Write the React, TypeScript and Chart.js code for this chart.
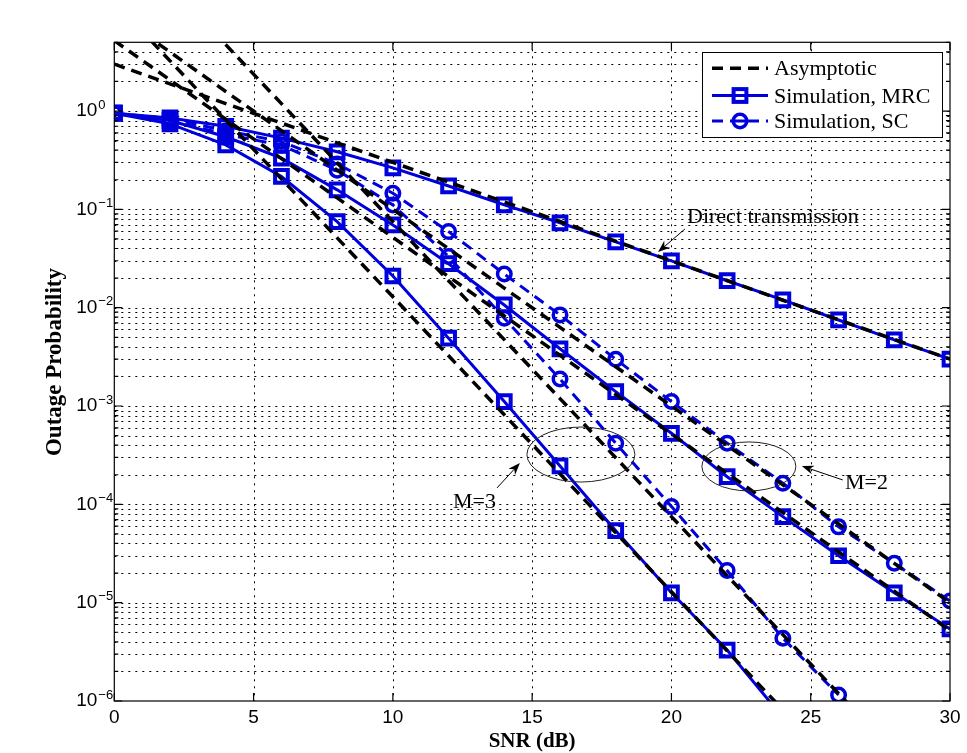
import React, { useEffect, useRef } from 'react';
import { Chart, registerables } from 'chart.js';

Chart.register(...registerables);

// ---------- data ----------
const snr = [0, 2, 4, 6, 8, 10, 12, 14, 16, 18, 20, 22, 24, 26, 28, 30];

const directSim = [0.95, 0.85, 0.70, 0.53, 0.385, 0.264, 0.173, 0.111, 0.073, 0.0467, 0.0299, 0.0188, 0.0120, 0.0075, 0.0047, 0.0030];
const mrc2Sim = [0.95, 0.80, 0.547, 0.332, 0.158, 0.0695, 0.0280, 0.01066, 0.00382, 0.00140, 5.28e-4, 1.91e-4, 7.5e-5, 3.0e-5, 1.26e-5, 5.4e-6];
const sc2Sim = [0.95, 0.84, 0.63, 0.49, 0.29, 0.146, 0.0594, 0.0220, 0.00845, 0.00299, 1.11e-3, 4.19e-4, 1.64e-4, 5.9e-5, 2.52e-5, 1.04e-5];
const mrc3Sim = [0.95, 0.74, 0.453, 0.216, 0.075, 0.0210, 0.0049, 0.00111, 2.46e-4, 5.39e-5, 1.26e-5, 3.3e-6, 6.8e-7];
const sc3Sim = [0.95, 0.80, 0.58, 0.45, 0.25, 0.111, 0.0331, 0.0078, 0.00188, 4.19e-4, 9.5e-5, 2.12e-5, 4.35e-6, 1.15e-6];

const directAsym = [3.0, 1.89, 1.19, 0.754, 0.475, 0.30, 0.189, 0.119, 0.0754, 0.0475, 0.030, 0.0189, 0.0119, 0.00754, 0.00475, 0.0030];
const mrc2Asym = [5.2, 2.07, 0.824, 0.328, 0.131, 0.052, 0.0207, 0.00824, 0.00328, 0.00131, 5.2e-4, 2.07e-4, 8.24e-5, 3.28e-5, 1.31e-5, 5.2e-6];
const sc2Asym = [10, 3.98, 1.58, 0.631, 0.251, 0.10, 0.0398, 0.0158, 0.00631, 0.00251, 1.0e-3, 3.98e-4, 1.58e-4, 6.31e-5, 2.51e-5, 1.0e-5];
const mrc3Asym = [12.9, 3.24, 0.814, 0.204, 0.0513, 0.0129, 3.24e-3, 8.14e-4, 2.04e-4, 5.13e-5, 1.29e-5, 3.24e-6, 8.14e-7];
const sc3Asym = [75, 18.8, 4.73, 1.19, 0.298, 0.075, 0.0188, 4.73e-3, 1.19e-3, 2.98e-4, 7.5e-5, 1.88e-5, 4.73e-6, 1.19e-6, 2.98e-7];

const xTicks = [0, 5, 10, 15, 20, 25, 30];
const yDecades = [-6, -5, -4, -3, -2, -1, 0];
const legendLabels = ['Asymptotic', 'Simulation, MRC', 'Simulation, SC'];
const xTitle = 'SNR (dB)';
const yTitle = 'Outage Probability';

// annotations (data coordinates)
const directNote = { text: 'Direct transmission', x: 20.56, y: 0.0836, ax: 20.48, ay: 0.063, tx: 19.52, ty: 0.0368 };
const m3Note = { text: 'M=3', x: 12.16, y: 1.06e-4, ax: 13.74, ay: 1.47e-4, tx: 14.56, ty: 2.63e-4 };
const m2Note = { text: 'M=2', x: 26.23, y: 1.65e-4, ax: 26.15, ay: 1.77e-4, tx: 24.68, ty: 2.45e-4 };
const ellipse3 = { x: 16.75, y: 3.21e-4, rx: 54, ry: 27.5 };
const ellipse2 = { x: 22.78, y: 2.43e-4, rx: 47, ry: 24.5 };

// ---------- style ----------
const BLUE = '#0000dd';
const SERIF = '"Liberation Serif", "Times New Roman", serif';
const SANS = '"Liberation Sans", Arial, sans-serif';
const DASH = [11, 7];

const toPts = (vals: number[]) => vals.map((v, i) => ({ x: snr[i], y: v }));

function arrow(ctx: CanvasRenderingContext2D, x1: number, y1: number, x2: number, y2: number) {
  const ang = Math.atan2(y2 - y1, x2 - x1);
  const L = 12, W = 4.5;
  ctx.beginPath();
  ctx.moveTo(x1, y1);
  ctx.lineTo(x2 - Math.cos(ang) * L * 0.7, y2 - Math.sin(ang) * L * 0.7);
  ctx.stroke();
  ctx.beginPath();
  ctx.moveTo(x2, y2);
  ctx.lineTo(x2 - Math.cos(ang) * L - Math.sin(ang) * W, y2 - Math.sin(ang) * L + Math.cos(ang) * W);
  ctx.lineTo(x2 - Math.cos(ang) * L * 0.7, y2 - Math.sin(ang) * L * 0.7);
  ctx.lineTo(x2 - Math.cos(ang) * L + Math.sin(ang) * W, y2 - Math.sin(ang) * L - Math.cos(ang) * W);
  ctx.closePath();
  ctx.fill();
}

const decor = {
  id: 'decor',
  beforeDatasetsDraw(chart: any) {
    const { ctx, chartArea: a, scales } = chart;
    const x = scales.x, y = scales.y;
    ctx.save();
    ctx.strokeStyle = '#000';
    ctx.lineWidth = 1;
    ctx.setLineDash([2, 5]);
    ctx.beginPath();
    for (const t of xTicks) {
      if (t <= 0 || t >= 30) continue;
      const px = Math.round(x.getPixelForValue(t)) + 0.5;
      ctx.moveTo(px, a.top);
      ctx.lineTo(px, a.bottom);
    }
    for (const e of yDecades) {
      for (let m = 1; m <= 9; m++) {
        const v = m * Math.pow(10, e);
        if (v <= 1e-6 * 1.0001 || v >= 5 * 0.9999) continue;
        const py = Math.round(y.getPixelForValue(v)) + 0.5;
        ctx.moveTo(a.left, py);
        ctx.lineTo(a.right, py);
      }
    }
    ctx.stroke();
    ctx.restore();
  },
  afterDatasetsDraw(chart: any) {
    const { ctx, chartArea: a, scales } = chart;
    const x = scales.x, y = scales.y;
    ctx.save();
    // box
    ctx.strokeStyle = '#000';
    ctx.lineWidth = 1.2;
    ctx.setLineDash([]);
    ctx.strokeRect(a.left, a.top, a.right - a.left, a.bottom - a.top);
    // ticks
    ctx.beginPath();
    for (const t of xTicks) {
      const px = x.getPixelForValue(t);
      ctx.moveTo(px, a.bottom); ctx.lineTo(px, a.bottom - 8);
      ctx.moveTo(px, a.top); ctx.lineTo(px, a.top + 8);
    }
    for (const e of yDecades) {
      for (let m = 1; m <= 9; m++) {
        const v = m * Math.pow(10, e);
        if (v > 5) continue;
        const py = y.getPixelForValue(v);
        const len = m === 1 ? 8 : 4;
        ctx.moveTo(a.left, py); ctx.lineTo(a.left + len, py);
        ctx.moveTo(a.right, py); ctx.lineTo(a.right - len, py);
      }
    }
    ctx.stroke();
    // y tick labels 10^n
    ctx.fillStyle = '#000';
    for (const e of yDecades) {
      const py = y.getPixelForValue(Math.pow(10, e));
      ctx.font = `19px ${SANS}`;
      ctx.textAlign = 'right';
      ctx.textBaseline = 'middle';
      ctx.fillText('10', a.left - 17, py);
      ctx.font = `13px ${SANS}`;
      ctx.textAlign = 'left';
      ctx.textBaseline = 'alphabetic';
      ctx.fillText(e < 0 ? '\u2212' + String(-e) : String(e), a.left - 16, py - 2.5);
    }
    // y title
    ctx.save();
    ctx.translate(55, 362);
    ctx.rotate(-Math.PI / 2);
    ctx.font = `bold 23px ${SERIF}`;
    ctx.textAlign = 'center';
    ctx.textBaseline = 'middle';
    ctx.fillText(yTitle, 0, 0);
    ctx.restore();

    // ellipses
    ctx.strokeStyle = '#222';
    ctx.lineWidth = 1;
    for (const el of [ellipse3, ellipse2]) {
      ctx.beginPath();
      ctx.ellipse(x.getPixelForValue(el.x), y.getPixelForValue(el.y), el.rx, el.ry, 0, 0, Math.PI * 2);
      ctx.stroke();
    }
    // notes
    ctx.fillStyle = '#000';
    ctx.strokeStyle = '#000';
    ctx.lineWidth = 1;
    for (const n of [directNote, m3Note, m2Note]) {
      arrow(ctx, x.getPixelForValue(n.ax), y.getPixelForValue(n.ay), x.getPixelForValue(n.tx), y.getPixelForValue(n.ty));
      ctx.font = `22px ${SERIF}`;
      ctx.textAlign = 'left';
      ctx.textBaseline = 'middle';
      ctx.fillText(n.text, x.getPixelForValue(n.x), y.getPixelForValue(n.y));
    }

    // legend
    const lx = 702.5, ly = 52.5, lw = 240, lh = 85;
    ctx.fillStyle = '#fff';
    ctx.fillRect(lx, ly, lw, lh);
    ctx.strokeStyle = '#000';
    ctx.lineWidth = 1;
    ctx.strokeRect(lx, ly, lw, lh);
    const rows = [68.3, 95.5, 121];
    const x0 = 712, x1 = 768, xm = 740;
    // row 1
    ctx.lineCap = 'butt';
    ctx.strokeStyle = '#000';
    ctx.lineWidth = 3.5;
    ctx.setLineDash(DASH);
    ctx.beginPath(); ctx.moveTo(x0, rows[0]); ctx.lineTo(x1, rows[0]); ctx.stroke();
    // row 2
    ctx.strokeStyle = BLUE;
    ctx.lineWidth = 3;
    ctx.setLineDash([]);
    ctx.beginPath(); ctx.moveTo(x0, rows[1]); ctx.lineTo(x1, rows[1]); ctx.stroke();
    ctx.lineWidth = 4;
    ctx.strokeRect(xm - 6.4, rows[1] - 6.4, 12.8, 12.8);
    // row 3
    ctx.lineWidth = 3;
    ctx.setLineDash(DASH);
    ctx.beginPath(); ctx.moveTo(x0, rows[2]); ctx.lineTo(x1, rows[2]); ctx.stroke();
    ctx.setLineDash([]);
    ctx.fillStyle = '#fff';
    ctx.beginPath(); ctx.arc(xm, rows[2], 6.75, 0, Math.PI * 2); ctx.fill();
    ctx.lineWidth = 3.5;
    ctx.stroke();
    ctx.beginPath(); ctx.moveTo(xm - 6, rows[2]); ctx.lineTo(xm + 6, rows[2]); ctx.lineWidth = 3; ctx.stroke();
    ctx.fillStyle = '#000';
    ctx.font = `22px ${SERIF}`;
    ctx.textAlign = 'left';
    ctx.textBaseline = 'alphabetic';
    legendLabels.forEach((t, i) => ctx.fillText(t, 774, rows[i] + 7));
    ctx.restore();
  },
};

export default function App() {
  const ref = useRef<HTMLCanvasElement>(null);
  useEffect(() => {
    document.body.style.margin = '0';
    const canvas = ref.current!;
    const asym = (vals: number[]) => ({
      data: toPts(vals),
      borderColor: '#000',
      backgroundColor: '#000',
      borderWidth: 3.5,
      borderDash: DASH,
      borderCapStyle: 'butt' as const,
      pointRadius: 0,
      fill: false,
      tension: 0,
    });
    const mrc = (vals: number[]) => ({
      data: toPts(vals),
      borderColor: BLUE,
      borderWidth: 3,
      pointStyle: 'rect' as const,
      pointRadius: 9.0,
      pointBorderWidth: 4,
      pointBorderColor: BLUE,
      pointBackgroundColor: 'rgba(0,0,0,0)',
      fill: false,
      tension: 0,
    });
    const sc = (vals: number[]) => ({
      data: toPts(vals),
      borderColor: BLUE,
      borderWidth: 3,
      borderDash: DASH,
      borderCapStyle: 'butt' as const,
      pointStyle: 'circle' as const,
      pointRadius: 6.75,
      pointBorderWidth: 3.5,
      pointBorderColor: BLUE,
      pointBackgroundColor: 'rgba(0,0,0,0)',
      fill: false,
      tension: 0,
    });
    const chart = new Chart(canvas, {
      type: 'line',
      data: {
        datasets: [
          { label: 'Asymptotic direct', ...asym(directAsym) },
          { label: 'Asymptotic MRC M=2', ...asym(mrc2Asym) },
          { label: 'Asymptotic SC M=2', ...asym(sc2Asym) },
          { label: 'Asymptotic MRC M=3', ...asym(mrc3Asym) },
          { label: 'Asymptotic SC M=3', ...asym(sc3Asym) },
          { label: 'SC M=2', ...sc(sc2Sim) },
          { label: 'SC M=3', ...sc(sc3Sim) },
          { label: 'Direct transmission', ...mrc(directSim) },
          { label: 'MRC M=2', ...mrc(mrc2Sim) },
          { label: 'MRC M=3', ...mrc(mrc3Sim) },
        ] as any,
      },
      options: {
        animation: false,
        responsive: false,
        events: [],
        layout: { padding: { left: 0, top: 42.3, right: 17, bottom: 0 } },
        plugins: { legend: { display: false }, tooltip: { enabled: false }, title: { display: false } },
        scales: {
          x: {
            type: 'linear',
            min: 0,
            max: 30,
            afterBuildTicks: (s: any) => { s.ticks = xTicks.map((v) => ({ value: v })); },
            ticks: { font: { family: SANS, size: 19, lineHeight: 1.2 }, color: '#000', padding: 5.6, maxRotation: 0, autoSkip: false },
            grid: { display: false, drawTicks: false },
            border: { display: false },
            title: { display: true, text: xTitle, color: '#000', font: { family: SERIF, size: 21, weight: 'bold', lineHeight: 1 }, padding: { top: 0, bottom: 0.5 } },
            afterFit: (s: any) => { s.height = 52; },
          },
          y: {
            type: 'logarithmic',
            min: 1e-6,
            max: 5,
            ticks: { display: false },
            grid: { display: false, drawTicks: false },
            border: { display: false },
            afterFit: (s: any) => { s.width = 114.3; },
          },
        },
      } as any,
      plugins: [decor],
    });
    return () => chart.destroy();
  }, []);
  return <canvas ref={ref} width={967} height={753} style={{ display: 'block' }} />;
}
